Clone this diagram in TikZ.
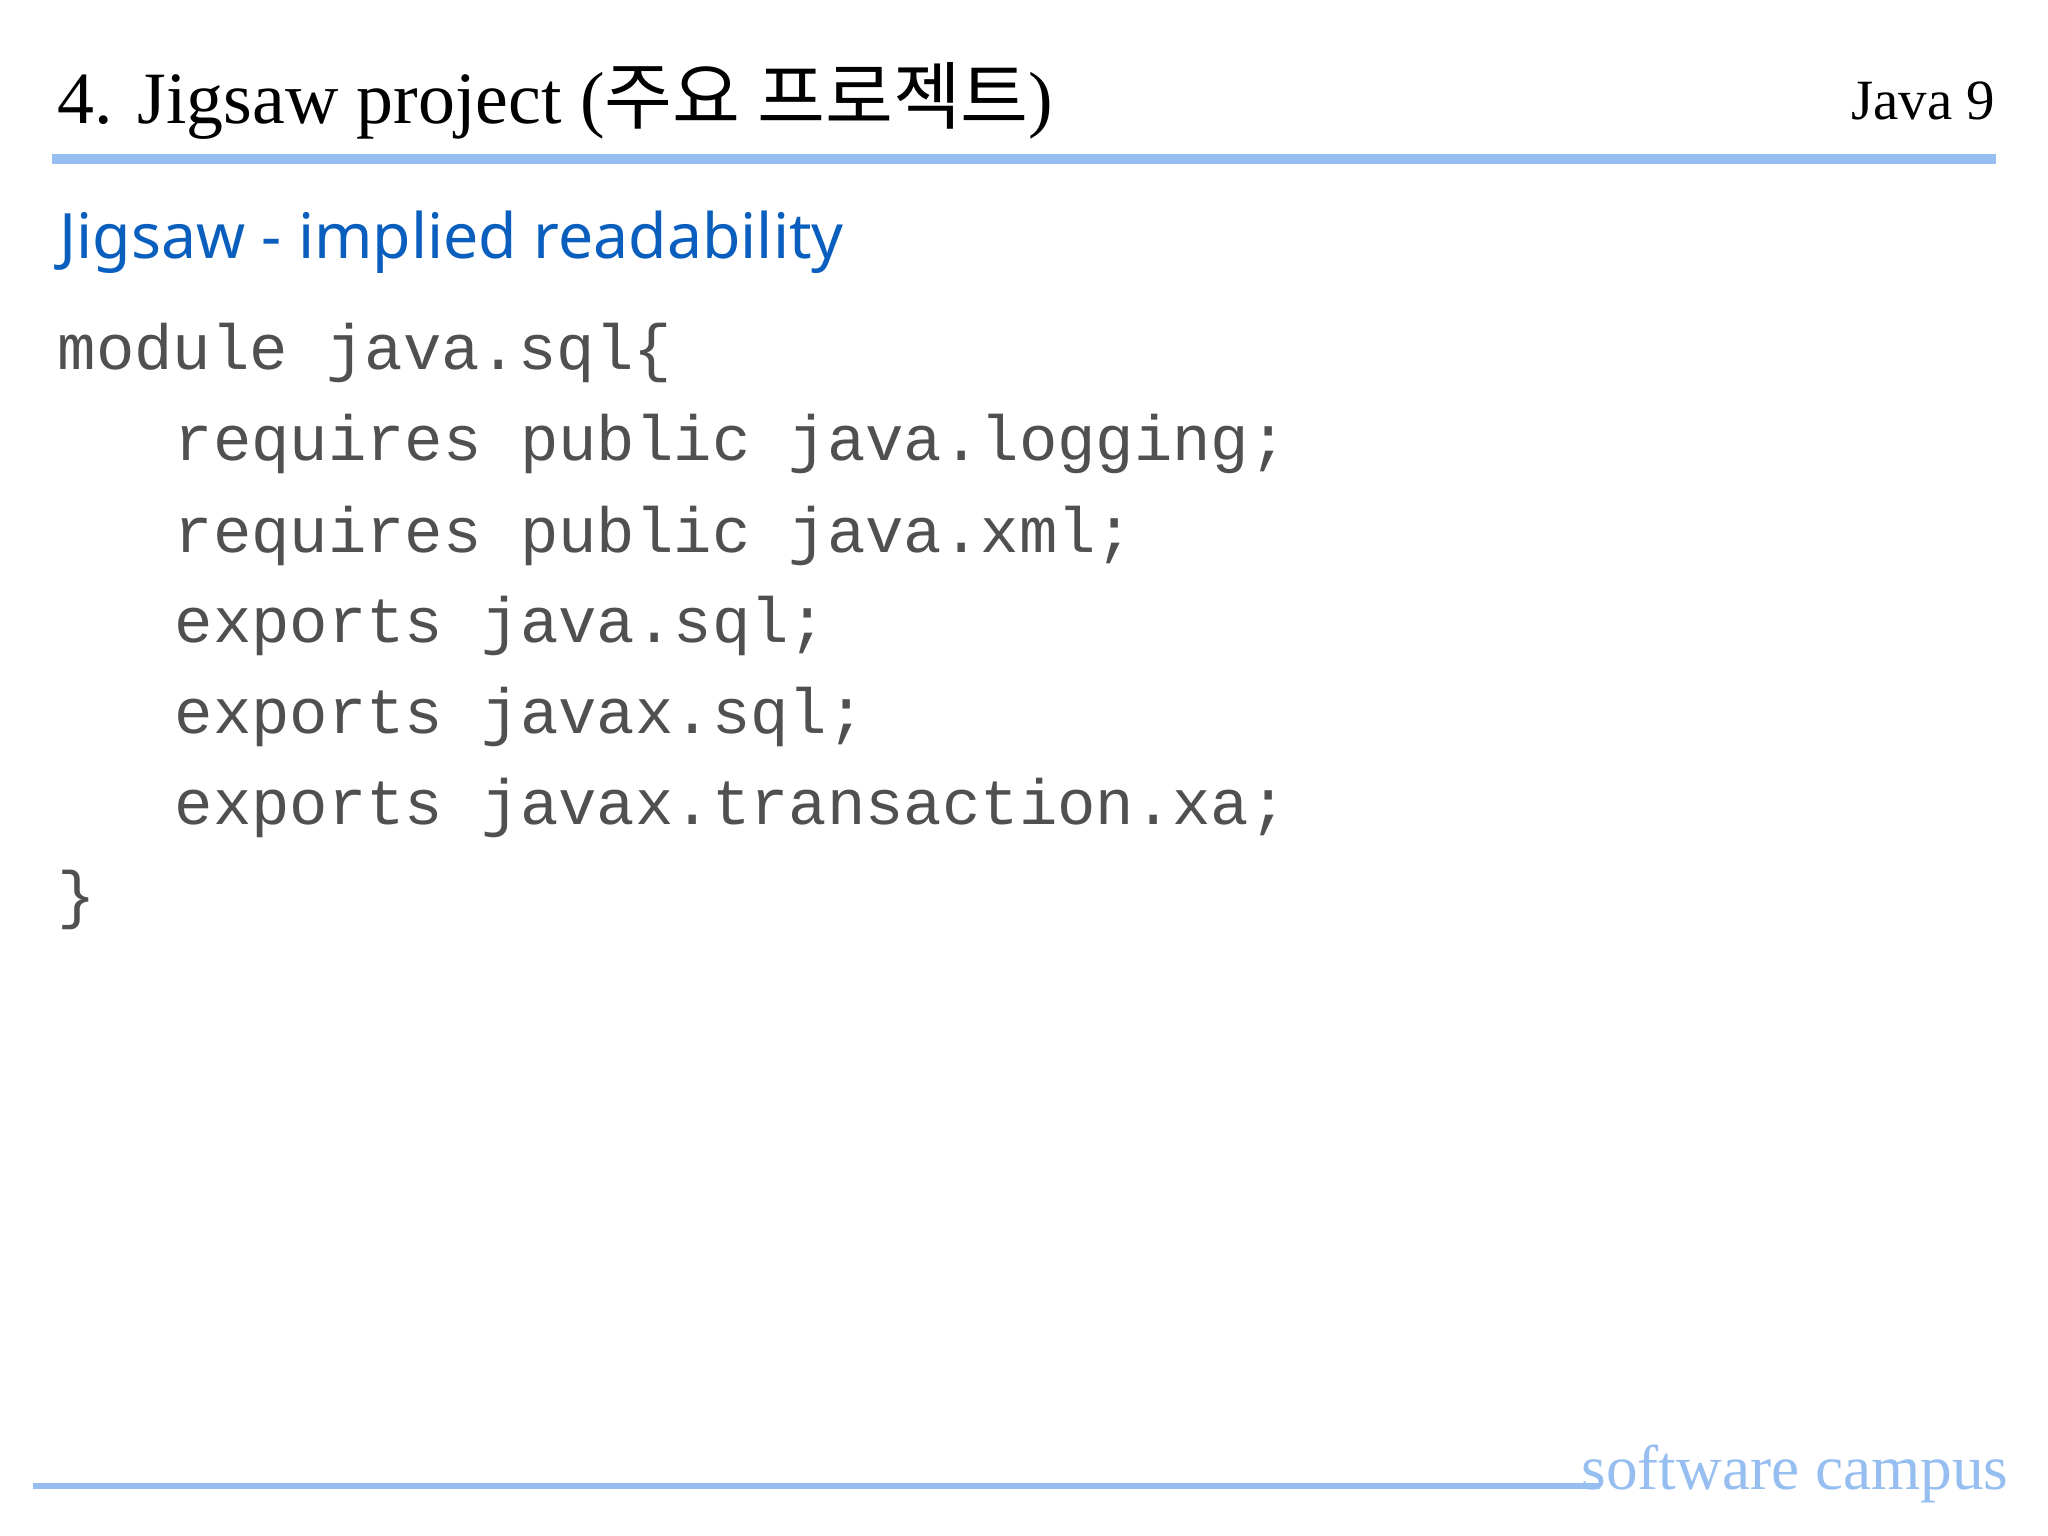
\documentclass[tikz,border=0pt]{standalone}
\usepackage{fontspec}
\setmainfont{Liberation Serif}
\setsansfont{Noto Sans}
\setmonofont{Liberation Mono}
\newfontfamily\kor{Noto Sans CJK KR}
\definecolor{lblue}{RGB}{150,190,240}
\definecolor{subblue}{RGB}{10,95,190}
\definecolor{codegray}{RGB}{80,80,80}
\tikzset{code/.style={anchor=base west,inner sep=0pt,font=\ttfamily\fontsize{18.2}{18}\selectfont,text=codegray}}
\begin{document}
\begin{tikzpicture}[x=1cm,y=1cm]
\useasboundingbox (0,0) rectangle (20.48,-15.36);
\fill[white] (0,0) rectangle (20.48,-15.36);
\node[anchor=base west,inner sep=0pt,font=\fontsize{21}{21}\selectfont] (title) at (0.57,-1.24) {4. Jigsaw project ({\kor 주요 프로젝트})};
\node[anchor=base east,inner sep=0pt,font=\fontsize{16.2}{16}\selectfont] (ver) at (19.96,-1.20) {Java 9};
\draw[lblue,line width=3pt] (0.52,-1.59) -- (19.96,-1.59);
\node[anchor=base west,inner sep=0pt,font=\sffamily\fontsize{17.8}{18}\selectfont,text=subblue] (sub) at (0.59,-2.59) {Jigsaw - implied readability};
\node[code] (l1) at (0.57,-3.70) {module java.sql\{};
\node[code] (l2) at (1.74,-4.61) {requires public java.logging;};
\node[code] (l3) at (1.74,-5.52) {requires public java.xml;};
\node[code] (l4) at (1.74,-6.43) {exports java.sql;};
\node[code] (l5) at (1.74,-7.34) {exports javax.sql;};
\node[code] (l6) at (1.74,-8.25) {exports javax.transaction.xa;};
\node[code] (l7) at (0.57,-9.16) {\}};
\draw[lblue,line width=1.5pt] (0.33,-14.86) -- (16.0,-14.86);
\node[anchor=base east,inner sep=0pt,font=\fontsize{18}{18}\selectfont,text=lblue] (sc) at (20.09,-14.89) {software campus};
\end{tikzpicture}
\end{document}
